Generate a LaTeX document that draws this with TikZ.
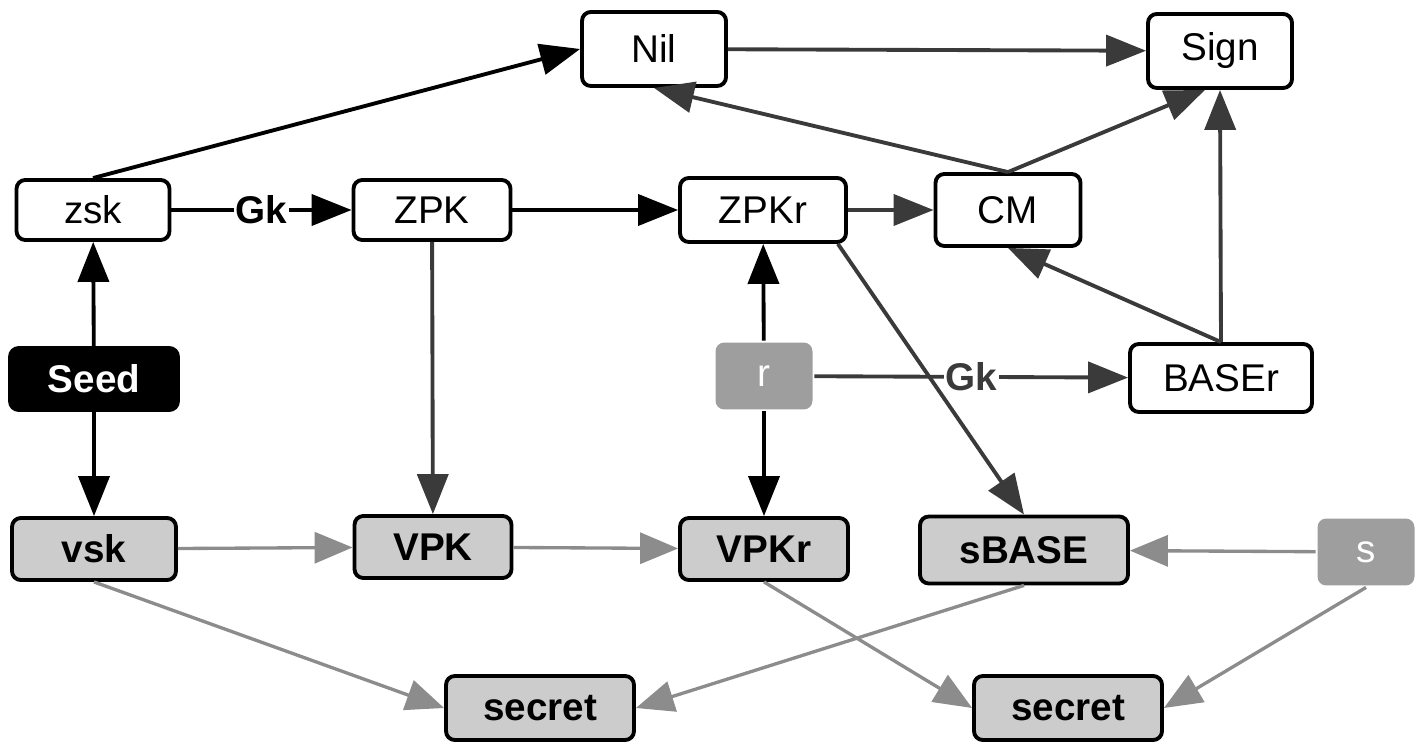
\documentclass[tikz,border=0pt]{standalone}
\usepackage{fontspec}
\setmainfont{Liberation Sans}
\usetikzlibrary{arrows.meta}
\definecolor{darkedge}{HTML}{3A3A3A}
\definecolor{lightedge}{HTML}{8C8C8C}
\definecolor{keyfill}{HTML}{CCCCCC}
\definecolor{randfill}{HTML}{9E9E9E}

\begin{document}
\begin{tikzpicture}[x=0.02cm,y=-0.02cm]
		\tikzset{box/.style = {shape=rectangle, draw=black, line width=2.2pt, rounded corners=5pt, fill=white, font=\fontsize{22}{26}\selectfont, inner sep=0pt}}
		\tikzset{vbox/.style = {box, fill=keyfill, font=\fontsize{22}{26}\selectfont\bfseries}}
		\tikzset{seedbox/.style = {box, fill=black, text=white, font=\fontsize{22}{26}\selectfont\bfseries}}
		\tikzset{randbox/.style = {box, draw=none, fill=randfill, text=white}}
		\tikzset{edge/.style = {line width=2.2pt, draw=black, -{Triangle[length=0.8cm, width=0.62cm]}}}
		\tikzset{dedge/.style = {edge, draw=darkedge}}
		\tikzset{ledge/.style = {edge, line width=1.9pt, draw=lightedge, -{Triangle[length=0.76cm, width=0.62cm]}}}
		\tikzset{gk/.style = {fill=white, inner sep=1pt, font=\fontsize{22}{26}\selectfont\bfseries}}

		\useasboundingbox (0,0) rectangle (1420,746);

		\node[box, minimum width=2.88cm, minimum height=1.48cm] (Nil) at (654,49) {Nil};
		\node[box, minimum width=2.88cm, minimum height=1.48cm] (Sign) at (1220,51) {Sign};
		\node[box, minimum width=3.06cm, minimum height=1.2cm] (zsk) at (93,210) {zsk};
		\node[box, minimum width=3.14cm, minimum height=1.2cm] (ZPK) at (432,210) {ZPK};
		\node[box, minimum width=3.32cm, minimum height=1.28cm] (ZPKr) at (763,210) {ZPKr};
		\node[box, minimum width=2.9cm, minimum height=1.44cm] (CM) at (1008,210) {CM};
		\node[seedbox, minimum width=3.36cm, minimum height=1.24cm] (Seed) at (94,379) {Seed};
		\node[randbox, minimum width=1.94cm, minimum height=1.34cm] (r) at (764,376) {r};
		\node[box, minimum width=3.64cm, minimum height=1.36cm] (BASEr) at (1221,378) {BASEr};
		\node[vbox, minimum width=3.28cm, minimum height=1.24cm] (vsk) at (94,549) {vsk};
		\node[vbox, minimum width=3.14cm, minimum height=1.24cm] (VPK) at (433,547) {VPK};
		\node[vbox, minimum width=3.36cm, minimum height=1.24cm] (VPKr) at (764,549) {VPKr};
		\node[vbox, minimum width=4.16cm, minimum height=1.34cm] (sBASE) at (1024,550) {sBASE};
		\node[randbox, minimum width=1.94cm, minimum height=1.34cm] (s) at (1366,552) {s};
		\node[vbox, minimum width=3.76cm, minimum height=1.28cm] (secretA) at (540,708) {secret};
		\node[vbox, minimum width=3.76cm, minimum height=1.28cm] (secretB) at (1068,708) {secret};

		\draw[edge] (zsk.north) to (Nil.west);
		\draw[dedge] (Nil) to (Sign);
		\draw[dedge] (CM.north) to (Nil.south);
		\draw[dedge] (CM.north) to ([xshift=-0.3cm]Sign.south);
		\draw[dedge] (BASEr.north) to (Sign.south);
		\draw[dedge] (BASEr.north) to (CM.south);
		\draw[edge] (zsk) to node[gk] {Gk} (ZPK);
		\draw[edge] (ZPK) to (ZPKr);
		\draw[dedge] (ZPKr) to (CM);
		\draw[dedge] ([xshift=-0.2cm]ZPKr.south east) to (sBASE.north);
		\draw[edge] (Seed) to (zsk);
		\draw[edge] (Seed) to (vsk);
		\draw[dedge] (ZPK) to (VPK);
		\draw[edge] (r) to (ZPKr);
		\draw[edge] (r) to (VPKr);
		\draw[dedge] (r) to node[gk, text=darkedge] {Gk} (BASEr);
		\draw[ledge] (vsk) to (VPK);
		\draw[ledge] (VPK) to (VPKr);
		\draw[ledge] (s) to (sBASE);
		\draw[ledge] (vsk.south) to (secretA.west);
		\draw[ledge] (sBASE.south) to (secretA.east);
		\draw[ledge] (VPKr.south) to (secretB.west);
		\draw[ledge] (s.south) to (secretB.east);
	\end{tikzpicture}
\end{document}
